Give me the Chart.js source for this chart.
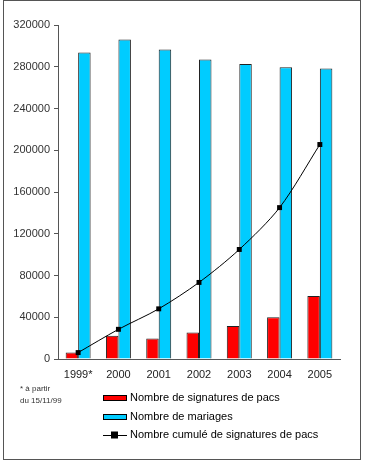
<!DOCTYPE html>
<html>
<head>
<meta charset="utf-8">
<script src="https://cdn.jsdelivr.net/npm/chart.js@4/dist/chart.umd.min.js"></script>
<style>
html,body{margin:0;padding:0;background:#fff;}
#wrap{position:relative;width:367px;height:468px;}
</style>
</head>
<body>
<div id="wrap"><canvas id="c" width="367" height="468"></canvas></div>
<script>
const categories = ["1999*", "2000", "2001", "2002", "2003", "2004", "2005"];
const pacsSignatures = [6151, 22276, 19629, 25305, 31585, 40093, 60462];
const mariages = [293700, 306200, 296500, 287000, 282700, 279500, 278300];
const pacsCumules = [6151, 28427, 48056, 73361, 104946, 145039, 205501];
const yTicks = [0, 40000, 80000, 120000, 160000, 200000, 240000, 280000, 320000];
const seriesNames = ["Nombre de signatures de pacs", "Nombre de mariages", "Nombre cumulé de signatures de pacs"];
const footnote = ["* à partir", "du 15/11/99"];

const FONT = "Arial, 'Liberation Sans', sans-serif";

const overlay = {
  id: 'overlay',
  afterDraw(chart) {
    const ctx = chart.ctx;
    ctx.save();
    ctx.strokeStyle = '#555';
    ctx.lineWidth = 1;
    ctx.strokeRect(3.5, 0.5, 357, 459);
    ctx.fillStyle = '#333';
    ctx.font = '8px ' + FONT;
    ctx.textBaseline = 'middle';
    ctx.textAlign = 'left';
    ctx.fillText(footnote[0], 20, 389);
    ctx.fillText(footnote[1], 20, 401);
    const ds = chart.data.datasets;
    const rows = [398, 417, 435];
    ctx.font = '11px ' + FONT;
    for (let i = 0; i < 3; i++) {
      const y = rows[i];
      if (i < 2) {
        ctx.fillStyle = ds[i].backgroundColor;
        ctx.fillRect(103, y - 3, 24, 6);
        ctx.strokeStyle = '#000';
        ctx.strokeRect(103.5, y - 2.5, 23, 5);
      } else {
        ctx.strokeStyle = '#000';
        ctx.beginPath();
        ctx.moveTo(103, y + 0.5);
        ctx.lineTo(127, y + 0.5);
        ctx.stroke();
        ctx.fillStyle = '#000';
        ctx.fillRect(111, y - 3.5, 7, 7);
      }
      ctx.fillStyle = '#000';
      ctx.fillText(ds[i].label, 130, y);
    }
    ctx.restore();
  }
};

new Chart(document.getElementById('c'), {
  data: {
    labels: categories,
    datasets: [
      {
        type: 'bar', label: seriesNames[0], data: pacsSignatures,
        backgroundColor: '#ff0000', borderColor: '#222', borderWidth: 1,
        categoryPercentage: 0.62, barPercentage: 1, order: 2
      },
      {
        type: 'bar', label: seriesNames[1], data: mariages,
        backgroundColor: '#00ccff', borderColor: '#222', borderWidth: 1,
        categoryPercentage: 0.62, barPercentage: 1, order: 2
      },
      {
        type: 'line', label: seriesNames[2], data: pacsCumules,
        borderColor: '#000', borderWidth: 1, backgroundColor: '#000',
        pointStyle: 'rect', pointRadius: 3.5, pointBorderWidth: 0,
        tension: 0.3, fill: false, order: 1
      }
    ]
  },
  options: {
    responsive: false,
    animation: false,
    devicePixelRatio: 1,
    layout: { padding: { left: 0, right: 27, top: 25, bottom: 84 } },
    plugins: { legend: { display: false }, tooltip: { enabled: false } },
    scales: {
      x: {
        grid: { drawOnChartArea: false, drawTicks: false },
        border: { display: true, color: '#555', width: 1 },
        ticks: { color: '#222', font: { family: FONT, size: 11 }, padding: 9, maxRotation: 0 },
        afterFit(s) { s.height = 25; }
      },
      y: {
        min: 0, max: 320000,
        afterBuildTicks(s) { s.ticks = yTicks.map(v => ({ value: v })); },
        grid: { drawOnChartArea: false, drawTicks: true, tickLength: 4, color: '#555' },
        border: { display: true, color: '#555', width: 1 },
        ticks: { color: '#333', font: { family: FONT, size: 11 }, padding: 4, callback: v => String(v) },
        afterFit(s) { s.width = 58; }
      }
    }
  },
  plugins: [overlay]
});
</script>
</body>
</html>
